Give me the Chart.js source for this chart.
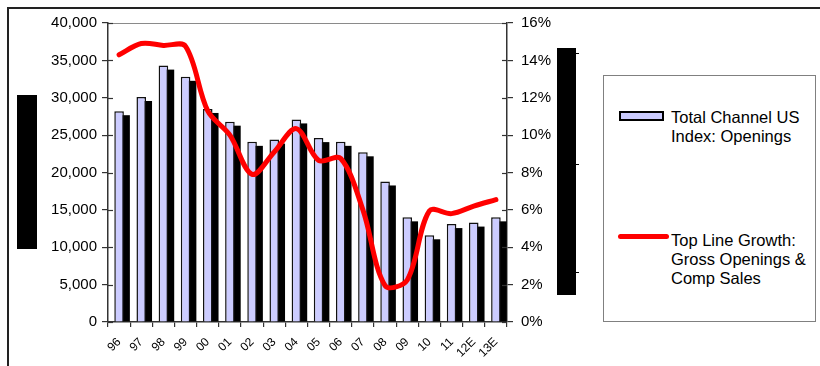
<!DOCTYPE html>
<html>
<head>
<meta charset="utf-8">
<script src="https://cdn.jsdelivr.net/npm/chart.js@4/dist/chart.umd.min.js"></script>
<style>
  html, body { margin: 0; padding: 0; background: #fff; }
  #wrap { position: relative; width: 820px; height: 366px; overflow: hidden; }
  #chart { position: absolute; left: 0; top: 0; }
  .legend {
    position: absolute; left: 603px; top: 75px; width: 213px; height: 247px;
    border: 1px solid #808080; box-sizing: border-box; background: #fff;
    font-family: "Liberation Sans", Arial, sans-serif; font-size: 16.5px; line-height: 19px;
    color: #000;
  }
  .swatch-bar { position: absolute; left: 15px; width: 41px; height: 6px; background: #ccccff; border: 2px solid #000; }
  .swatch-line { position: absolute; left: 14px; width: 51px; height: 5px; background: #ff0000; border-radius: 3px; }
  .txt { position: absolute; left: 67px; white-space: nowrap; }
</style>
</head>
<body>
<div id="wrap">
  <canvas id="chart" width="820" height="366"></canvas>
  <div class="legend">
    <div class="swatch-bar" style="top:35px"></div>
    <div class="txt" style="top:32px">Total Channel US<br>Index: Openings</div>
    <div class="swatch-line" style="top:158px"></div>
    <div class="txt" style="top:155px">Top Line Growth:<br>Gross Openings &amp;<br>Comp Sales</div>
  </div>
</div>
<script>
// Years on the category axis
const years = ['96', '97', '98', '99', '00', '01', '02', '03', '04', '05', '06', '07', '08', '09', '10', '11', '12E', '13E'];

// Total Channel US Index: Openings (left axis)
const openings = [28200, 30100, 34300, 32800, 28500, 26800, 24100, 24400, 27100, 24600, 24100, 22700, 18800, 14000, 11600, 13100, 13300, 14000];

// Top Line Growth: Gross Openings & Comp Sales, in percent (right axis)
const growthPct = [14.3, 14.9, 14.8, 14.75, 11.3, 10.0, 7.9, 9.1, 10.35, 8.65, 8.75, 6.0, 1.95, 2.25, 5.95, 5.8, 6.2, 6.55];

// Axis tick values
const leftTicks = [0, 5000, 10000, 15000, 20000, 25000, 30000, 35000, 40000];
const rightTicks = [0, 2, 4, 6, 8, 10, 12, 14, 16];

const FONT = '"Liberation Sans", Arial, sans-serif';

// Frame, bar drop shadows, cross ticks and the two dark side blocks
const decor = {
  id: 'decor',
  beforeDraw(chart) {
    const ctx = chart.ctx;
    ctx.save();
    ctx.strokeStyle = '#222';
    ctx.lineWidth = 2;
    ctx.beginPath();
    ctx.moveTo(8, 366); ctx.lineTo(8, 8); ctx.lineTo(820, 8);
    ctx.stroke();
    ctx.restore();
  },
  beforeDatasetDraw(chart, args) {
    if (args.index !== 0) return;
    const ctx = chart.ctx;
    const dx = 6, dy = 4;
    ctx.save();
    ctx.fillStyle = '#000';
    args.meta.data.forEach(bar => {
      const p = bar.getProps(['x', 'y', 'base', 'width'], true);
      const left = p.x - p.width / 2 + dx;
      const top = p.y + dy;
      ctx.fillRect(left, top, p.width, p.base - top);
    });
    ctx.restore();
  },
  afterDraw(chart) {
    const ctx = chart.ctx;
    const a = chart.chartArea;
    ctx.save();
    // top edge of plot
    ctx.strokeStyle = '#8a8a8a';
    ctx.lineWidth = 1;
    ctx.beginPath();
    ctx.moveTo(a.left, a.top + 0.5); ctx.lineTo(a.right, a.top + 0.5);
    ctx.stroke();
    // inner halves of the cross tick marks
    ctx.strokeStyle = '#333';
    ctx.lineWidth = 1.2;
    const yl = chart.scales.y, yr = chart.scales.y1;
    yl.ticks.forEach((t, i) => {
      const p = Math.round(yl.getPixelForTick(i)) + 0.5;
      ctx.beginPath(); ctx.moveTo(a.left, p); ctx.lineTo(a.left + 5, p); ctx.stroke();
    });
    yr.ticks.forEach((t, i) => {
      const p = Math.round(yr.getPixelForTick(i)) + 0.5;
      ctx.beginPath(); ctx.moveTo(a.right, p); ctx.lineTo(a.right - 5, p); ctx.stroke();
    });
    // dark side blocks
    ctx.fillStyle = '#000';
    ctx.fillRect(17, 95, 20, 154);
    ctx.fillRect(557, 48, 19, 247);
    ctx.strokeStyle = '#000';
    ctx.lineWidth = 1;
    [53, 164, 272].forEach(y => {
      ctx.beginPath(); ctx.moveTo(576, y + 0.5); ctx.lineTo(579, y + 0.5); ctx.stroke();
    });
    ctx.restore();
  }
};

new Chart(document.getElementById('chart'), {
  type: 'bar',
  data: {
    labels: years,
    datasets: [
      {
        type: 'bar',
        label: 'Total Channel US Index: Openings',
        data: openings,
        yAxisID: 'y',
        backgroundColor: '#ccccff',
        borderColor: '#111',
        borderWidth: 1.5,
        borderSkipped: 'bottom',
        categoryPercentage: 0.9,
        barPercentage: 0.48,
        order: 1
      },
      {
        type: 'line',
        label: 'Top Line Growth: Gross Openings & Comp Sales',
        data: growthPct,
        yAxisID: 'y1',
        borderColor: '#ff0000',
        borderWidth: 5,
        tension: 0.33,
        pointRadius: 0,
        borderCapStyle: 'round',
        borderJoinStyle: 'round',
        clip: false,
        order: 0
      }
    ]
  },
  options: {
    responsive: false,
    animation: false,
    devicePixelRatio: 1,
    layout: { padding: { left: 0, right: 0, top: 23, bottom: 0 } },
    plugins: { legend: { display: false }, tooltip: { enabled: false } },
    scales: {
      x: {
        afterFit: s => { s.height = 44; },
        grid: { drawOnChartArea: false, tickLength: 5, color: '#333', lineWidth: 1.2, offset: true },
        border: { color: '#333', width: 1.5 },
        ticks: {
          color: '#000', font: { family: FONT, size: 12 },
          minRotation: 45, maxRotation: 45, padding: 8, autoSkip: false
        }
      },
      y: {
        position: 'left',
        min: 0, max: 40000,
        afterFit: s => { s.width = 108; },
        afterBuildTicks: s => { s.ticks = leftTicks.map(v => ({ value: v })); },
        grid: { drawOnChartArea: false, tickLength: 6, color: '#333', lineWidth: 1.2 },
        border: { color: '#333', width: 1.5 },
        ticks: {
          color: '#000', font: { family: FONT, size: 15 }, padding: 5,
          callback: v => v.toLocaleString('en-US')
        }
      },
      y1: {
        position: 'right',
        min: 0, max: 16,
        afterFit: s => { s.width = 313; },
        afterBuildTicks: s => { s.ticks = rightTicks.map(v => ({ value: v })); },
        grid: { drawOnChartArea: false, tickLength: 6, color: '#333', lineWidth: 1.2 },
        border: { color: '#333', width: 1.5 },
        ticks: {
          color: '#000', font: { family: FONT, size: 15 }, padding: 8,
          callback: v => v + '%'
        }
      }
    }
  },
  plugins: [decor]
});
</script>
</body>
</html>
